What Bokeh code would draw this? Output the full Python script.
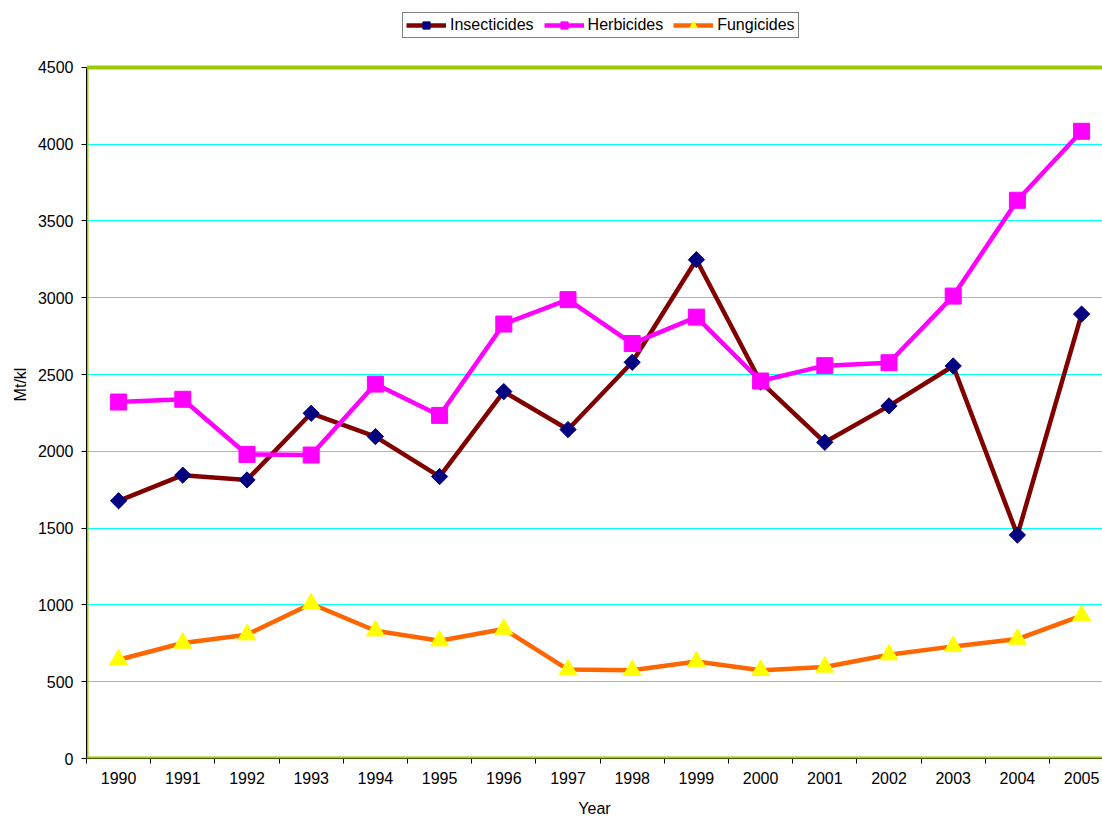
from bokeh.plotting import figure
from bokeh.models import (Range1d, FixedTicker, Span, Legend, LegendItem, ColumnDataSource)
from bokeh.embed import file_html
from bokeh.resources import INLINE
import math

years = ["1990", "1991", "1992", "1993", "1994", "1995", "1996", "1997",
         "1998", "1999", "2000", "2001", "2002", "2003", "2004", "2005"]
insecticides = [1678, 1845, 1814, 2248, 2096, 1836, 2389, 2142,
                2580, 3248, 2452, 2059, 2296, 2556, 1455, 2894]
herbicides = [2321, 2339, 1980, 1976, 2438, 2234, 2829, 2988,
              2702, 2874, 2458, 2558, 2577, 3011, 3635, 4084]
fungicides = [643, 752, 806, 1008, 832, 767, 843, 579,
              574, 631, 574, 596, 676, 730, 778, 930]
y_ticks = [0, 500, 1000, 1500, 2000, 2500, 3000, 3500, 4000, 4500]
y_max = 4500

xs = list(range(1, len(years) + 1))
FONT = "Liberation Sans"

# observed: figure is placed at page (0, 0)
FIG_X, FIG_Y = 0, 0
W, H = 1102, 819
frame_left_px, frame_top_px, frame_bottom_px = 86, 10, 759
px_per_unit = (759 - 67) / y_max
px_per_cat = 64.2
frame_w = (FIG_X + W) - frame_left_px
x_end = 0.5 + frame_w / px_per_cat
y_top = (frame_bottom_px - frame_top_px) / px_per_unit

p = figure(width=W, height=H, output_backend="svg", toolbar_location=None,
           x_range=Range1d(0.5, x_end), y_range=Range1d(0, y_top),
           min_border_left=frame_left_px - FIG_X, min_border_top=frame_top_px - FIG_Y,
           min_border_bottom=(FIG_Y + H) - frame_bottom_px, min_border_right=0)
p.outline_line_color = None
p.background_fill_color = "white"
p.border_fill_color = "white"

# grid
p.xgrid.grid_line_color = None
p.ygrid.grid_line_color = "#00FFFF"
p.ygrid.grid_line_width = 1
p.ygrid.ticker = FixedTicker(ticks=y_ticks[1:-1])

# plot area border (green)
p.add_layout(Span(location=y_max, dimension="width", line_color="#99CC00", line_width=4))
p.add_layout(Span(location=0, dimension="width", line_color="#99CC00", line_width=4))
p.segment(x0=[0.5], y0=[0], x1=[0.5], y1=[y_max], line_color="#99CC00", line_width=4)

# axes
p.xaxis.ticker = FixedTicker(ticks=xs, minor_ticks=[i + 0.5 for i in range(0, 17)])
p.xaxis.major_label_overrides = {i: y for i, y in zip(xs, years)}
p.xaxis.major_tick_out = 0
p.xaxis.major_tick_in = 0
p.xaxis.minor_tick_out = 5
p.xaxis.minor_tick_in = 0
p.xaxis.minor_tick_line_color = "black"
p.xaxis.axis_label = "Year"
p.xaxis.major_label_standoff = 8

p.yaxis.ticker = FixedTicker(ticks=y_ticks)
p.yaxis.bounds = (0, y_max)
p.yaxis.major_tick_out = 5
p.yaxis.major_tick_in = 0
p.yaxis.minor_tick_line_color = None
p.yaxis.axis_label = "Mt/kl"
p.yaxis.major_label_standoff = 8

for ax in (p.xaxis[0], p.yaxis[0]):
    ax.axis_line_color = "black"
    ax.axis_line_width = 1
    ax.major_tick_line_color = "black"
    ax.major_label_text_font = FONT
    ax.major_label_text_font_size = "16px"
    ax.major_label_text_color = "black"
    ax.axis_label_text_font = FONT
    ax.axis_label_text_font_size = "16px"
    ax.axis_label_text_font_style = "normal"
    ax.axis_label_text_color = "black"
p.xaxis.axis_label_standoff = 13
p.yaxis.axis_label_standoff = 6

src = ColumnDataSource(dict(x=xs, ins=insecticides, her=herbicides, fun=fungicides))

l1 = p.line("x", "ins", source=src, line_color="#800000", line_width=4.5)
m1 = p.scatter("x", "ins", source=src, marker="square", size=11.5, angle=math.pi / 4,
               fill_color="#000080", line_color="#000080")
l2 = p.line("x", "her", source=src, line_color="#FF00FF", line_width=4.5)
m2 = p.scatter("x", "her", source=src, marker="square", size=16,
               fill_color="#FF00FF", line_color="#FF00FF")
l3 = p.line("x", "fun", source=src, line_color="#FF6600", line_width=4.5)
m3 = p.scatter("x", "fun", source=src, marker="triangle", size=18,
               fill_color="#FFFF00", line_color="#FFFF00")

legend = Legend(items=[
    LegendItem(label="Insecticides", renderers=[l1, m1]),
    LegendItem(label="Herbicides", renderers=[l2, m2]),
    LegendItem(label="Fungicides", renderers=[l3, m3]),
], orientation="horizontal", location=(402 - frame_left_px, frame_bottom_px - 39))
legend.label_text_font = FONT
legend.label_text_font_size = "16px"
legend.label_text_color = "black"
legend.label_standoff = 4
legend.glyph_width = 40
legend.glyph_height = 18
legend.spacing = 10
legend.padding = 3
legend.margin = 0
legend.border_line_color = "black"
legend.border_line_width = 1
legend.label_height = 18
legend.background_fill_color = "white"
p.add_layout(legend, "center")

open("out.html", "w").write(file_html(p, INLINE))
